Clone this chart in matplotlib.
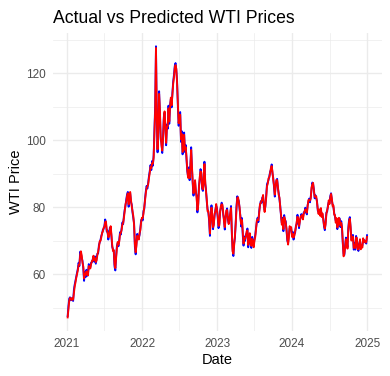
import numpy as np
import pandas as pd
import matplotlib

matplotlib.use("Agg")
import matplotlib.pyplot as plt
import matplotlib.dates as mdates
from matplotlib.ticker import FixedLocator

# WTI price, actual vs model prediction, ~2 readings per week (8 per month)
actual = [
    # 2021
    47.6, 50.6, 52.8, 53.2, 52.3, 52.9, 52.6, 52.1,
    55.5, 57.0, 58.2, 59.3, 60.5, 61.7, 63.5, 62.5,
    66.8, 66.3, 65.0, 64.0, 61.8, 58.1, 60.8, 59.2,
    61.4, 59.6, 60.2, 63.1, 61.8, 62.2, 63.5, 63.6,
    64.5, 65.2, 63.8, 65.4, 63.2, 64.8, 66.2, 66.3,
    68.8, 69.6, 70.3, 71.5, 72.1, 73.3, 73.6, 74.5,
    76.4, 75.2, 72.8, 73.1, 70.4, 71.9, 73.9, 74.0,
    71.3, 68.2, 67.5, 66.8, 62.3, 61.2, 65.6, 68.5,
    69.3, 68.4, 70.3, 72.6, 71.9, 73.8, 75.5, 75.0,
    77.6, 79.3, 80.5, 82.4, 83.9, 84.6, 80.2, 83.6,
    84.2, 81.6, 80.8, 78.4, 76.8, 75.2, 68.2, 66.0,
    69.4, 72.1, 70.7, 70.9, 71.8, 73.8, 76.2, 76.5,
    # 2022
    76.1, 78.9, 79.5, 82.6, 84.8, 86.4, 85.6, 87.3,
    89.3, 90.8, 92.6, 91.1, 93.8, 92.4, 95.5, 103.4,
    110.6, 128.0, 106.0, 96.4, 104.5, 114.6, 108.3, 100.3,
    99.3, 96.2, 101.0, 106.9, 108.2, 103.8, 98.5, 104.7,
    103.4, 110.3, 104.9, 110.5, 112.2, 109.8, 114.1, 117.5,
    119.5, 122.1, 123.0, 120.9, 117.6, 110.0, 104.3, 108.0,
    108.4, 99.5, 102.7, 95.8, 97.6, 102.3, 96.5, 98.6,
    94.4, 90.8, 89.4, 91.9, 88.1, 92.6, 97.9, 91.6,
    86.9, 83.5, 86.6, 87.5, 84.4, 83.5, 78.5, 81.2,
    86.5, 88.4, 91.4, 89.9, 85.5, 84.9, 88.4, 93.6,
    87.0, 85.3, 81.6, 79.5, 78.4, 75.9, 71.5, 77.3,
    80.6, 76.9, 73.5, 75.4, 77.6, 79.3, 80.5, 79.8,
    # 2023
    76.9, 73.8, 75.1, 78.9, 79.9, 81.4, 80.2, 77.9,
    76.4, 73.4, 77.1, 78.6, 79.7, 76.3, 75.4, 76.9,
    77.7, 80.4, 72.3, 67.6, 65.5, 69.3, 70.9, 75.7,
    80.4, 83.3, 82.5, 81.9, 79.4, 77.4, 74.3, 76.8,
    71.7, 68.6, 71.3, 70.0, 71.9, 72.3, 73.7, 68.1,
    70.1, 71.8, 69.4, 67.9, 71.2, 69.3, 68.6, 70.6,
    71.8, 73.9, 75.6, 76.9, 75.6, 78.8, 80.5, 81.8,
    81.4, 82.9, 83.2, 80.4, 79.1, 80.3, 83.5, 86.9,
    87.5, 88.2, 89.3, 90.6, 91.2, 92.8, 90.1, 88.8,
    86.0, 83.2, 86.4, 87.7, 88.5, 85.6, 84.2, 82.3,
    80.4, 77.2, 75.3, 76.9, 72.9, 77.7, 76.0, 75.9,
    73.0, 70.1, 69.4, 71.6, 73.9, 74.1, 73.6, 71.7,
    # 2024
    72.7, 70.4, 72.0, 72.4, 74.5, 75.1, 77.8, 76.0,
    73.8, 76.2, 76.7, 78.0, 77.2, 76.9, 78.5, 78.3,
    79.9, 78.8, 77.9, 80.7, 81.7, 82.6, 81.5, 83.2,
    85.4, 87.4, 86.9, 85.4, 82.7, 83.6, 82.8, 81.9,
    79.0, 78.5, 78.9, 78.0, 79.3, 77.6, 77.7, 76.8,
    74.2, 73.2, 75.5, 78.5, 78.7, 80.6, 81.6, 81.5,
    83.4, 84.2, 82.1, 80.8, 80.1, 78.3, 77.2, 75.9,
    76.3, 73.5, 75.2, 76.4, 76.7, 74.1, 75.9, 73.6,
    69.2, 66.0, 65.8, 68.7, 71.0, 69.7, 68.2, 73.7,
    76.4, 77.1, 73.6, 70.6, 70.4, 71.8, 67.4, 69.3,
    67.4, 71.5, 70.4, 68.0, 67.0, 69.1, 70.0, 68.0,
    68.1, 68.5, 70.3, 70.3, 69.6, 70.0, 69.2, 71.7,
]

predicted = [
    # 2021
    47.2, 49.8, 52.1, 53.0, 52.8, 52.4, 53.0, 52.5,
    54.6, 56.4, 57.6, 59.0, 60.1, 61.2, 62.8, 62.9,
    65.7, 66.9, 65.6, 63.5, 62.4, 58.8, 60.1, 59.8,
    60.9, 60.2, 59.7, 62.5, 62.3, 61.8, 63.1, 64.0,
    64.0, 65.6, 64.3, 64.9, 63.7, 64.2, 65.8, 66.8,
    68.1, 69.9, 70.0, 71.0, 72.4, 72.8, 73.9, 74.1,
    75.6, 75.8, 73.3, 72.6, 71.1, 71.3, 73.2, 74.4,
    71.9, 68.8, 67.0, 67.3, 63.0, 61.9, 64.8, 67.9,
    69.7, 68.9, 69.8, 72.0, 72.4, 73.2, 74.9, 75.4,
    76.9, 78.8, 80.9, 81.8, 83.4, 84.2, 80.9, 83.0,
    84.6, 82.2, 80.3, 78.9, 77.4, 74.6, 69.0, 66.6,
    68.7, 71.5, 71.2, 70.4, 72.3, 73.2, 75.6, 76.9,
    # 2022
    76.8, 78.2, 80.1, 82.0, 84.3, 85.8, 86.2, 86.8,
    88.7, 90.2, 92.1, 91.7, 93.2, 93.0, 94.8, 102.1,
    109.2, 127.5, 107.4, 97.3, 103.6, 113.8, 109.1, 101.2,
    98.6, 96.9, 100.3, 106.2, 108.6, 104.5, 99.2, 103.9,
    104.1, 109.5, 105.6, 109.8, 112.7, 110.4, 113.4, 116.8,
    118.7, 121.5, 122.4, 121.3, 116.9, 110.8, 105.1, 107.3,
    107.6, 100.3, 101.9, 96.5, 96.9, 101.6, 97.2, 97.9,
    95.1, 91.4, 88.8, 91.2, 88.7, 91.9, 97.1, 92.3,
    87.6, 84.2, 85.9, 88.1, 85.0, 82.8, 79.2, 80.6,
    85.8, 89.1, 90.7, 90.4, 86.1, 85.4, 87.8, 92.9,
    87.7, 84.6, 82.3, 78.8, 78.9, 76.5, 72.2, 76.6,
    79.9, 77.5, 74.1, 74.8, 78.2, 78.7, 81.0, 79.2,
    # 2023
    77.5, 74.5, 74.6, 78.2, 80.4, 80.9, 80.8, 78.5,
    75.8, 74.1, 76.5, 79.1, 79.2, 76.9, 75.0, 76.3,
    78.3, 79.8, 73.1, 66.9, 66.2, 68.7, 71.6, 75.0,
    79.6, 82.8, 83.0, 81.4, 79.9, 76.8, 75.0, 76.2,
    72.5, 69.2, 70.8, 70.6, 71.4, 72.9, 73.1, 68.8,
    69.6, 72.3, 69.9, 68.5, 70.6, 69.8, 68.1, 70.1,
    71.2, 73.4, 76.1, 76.4, 76.2, 78.2, 80.9, 81.3,
    82.0, 82.4, 83.7, 80.9, 78.6, 80.8, 82.9, 86.3,
    87.0, 88.7, 88.9, 90.2, 91.7, 92.3, 90.6, 88.2,
    86.6, 83.8, 85.9, 88.2, 88.0, 86.2, 83.7, 82.9,
    79.8, 77.8, 74.8, 76.4, 73.5, 77.1, 76.5, 75.3,
    73.6, 70.6, 68.9, 71.1, 74.4, 73.6, 74.1, 71.2,
    # 2024
    72.1, 71.0, 71.5, 72.9, 74.0, 75.6, 77.2, 76.6,
    74.4, 75.7, 77.2, 77.5, 77.7, 76.4, 78.0, 78.8,
    79.4, 79.3, 78.4, 80.2, 82.2, 82.1, 82.0, 82.7,
    85.9, 86.8, 87.3, 84.9, 83.2, 83.1, 83.3, 81.4,
    79.5, 78.0, 79.4, 77.5, 79.8, 77.1, 78.2, 76.3,
    74.7, 73.7, 75.0, 78.0, 79.2, 80.1, 82.1, 81.0,
    82.9, 84.0, 82.6, 80.3, 80.6, 77.8, 77.7, 75.4,
    76.8, 74.0, 74.7, 76.9, 76.2, 74.6, 75.4, 74.1,
    69.8, 65.4, 66.3, 68.2, 70.5, 70.2, 67.7, 73.1,
    75.8, 76.6, 74.1, 70.1, 70.9, 71.3, 67.9, 68.8,
    67.9, 71.0, 70.9, 67.5, 67.5, 68.6, 70.5, 67.5,
    68.6, 68.0, 70.8, 69.8, 70.1, 69.5, 69.7, 71.2,
]

dates = pd.date_range("2021-01-04", "2024-12-31", periods=len(actual))

plt.rcParams["font.family"] = ["Liberation Sans", "DejaVu Sans"]

fig = plt.figure(figsize=(3.9, 3.76), dpi=100)
ax = fig.add_axes([0.1351, 0.1197, 0.8444, 0.7933])

ax.plot(dates, actual, color="blue", lw=1.35)
ax.plot(dates, predicted, color="red", lw=1.35)
ax.margins(0.05)

ax.xaxis.set_major_locator(mdates.YearLocator())
ax.xaxis.set_major_formatter(mdates.DateFormatter("%Y"))
ax.xaxis.set_minor_locator(mdates.MonthLocator(bymonth=7, bymonthday=2))
ax.yaxis.set_major_locator(FixedLocator([60, 80, 100, 120]))
ax.yaxis.set_minor_locator(FixedLocator([50, 70, 90, 110, 130]))

ax.grid(which="major", color="#EBEBEB", lw=1.0)
ax.grid(which="minor", color="#EBEBEB", lw=0.5)
ax.set_axisbelow(True)
for s in ax.spines.values():
    s.set_visible(False)
ax.tick_params(which="both", length=0, pad=4.75, labelsize=8.45, labelcolor="#4D4D4D")

ax.set_xlabel("Date", fontsize=10.5, labelpad=2.6)
ax.set_ylabel("WTI Price", fontsize=10.5, labelpad=2.6)
fig.text(0.1351, 1 - 22.7 / 376, "Actual vs Predicted WTI Prices", fontsize=12.7,
         va="baseline", ha="left")

fig.savefig("out.png", dpi=100, facecolor="white")
